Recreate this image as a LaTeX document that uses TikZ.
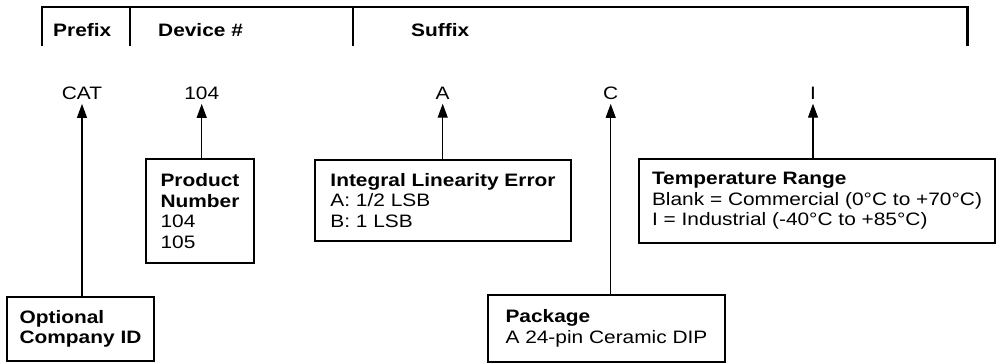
\documentclass[tikz,border=0pt]{standalone}
\usepackage{fontspec}
\setmainfont{Liberation Sans}[FakeStretch=1.16]
\usetikzlibrary{arrows.meta}
\begin{document}
\begin{tikzpicture}[x=1pt,y=-1pt,
  hdr/.style={font=\fontsize{18pt}{20.5pt}\selectfont\bfseries,inner sep=0pt,anchor=base west},
  code/.style={font=\fontsize{18pt}{20.5pt}\selectfont,inner xsep=0pt,inner ysep=4.5pt,anchor=base},
  infobox/.style={draw,line width=1.8pt,align=left,inner sep=0pt,font=\fontsize{18pt}{20.5pt}\selectfont},
  conn/.style={line width=1.2pt,-{Triangle[length=14pt,width=10pt]}}]
\useasboundingbox (0,0) rectangle (996,364);
% header bar
\draw[line width=2pt] (42,46) -- (42,7) -- (967,7);
\draw[line width=3pt] (967,6) -- (967,46);
\foreach \x in {130,353} \draw[line width=2pt] (\x,7) -- (\x,46);
\node[hdr] (prefix) at (53,36) {Prefix};
\node[hdr] (device) at (158,36) {Device \#};
\node[hdr] (suffix) at (411,36) {Suffix};
% part number
\node[code] (cat) at (82,99) {CAT};
\node[code] (num) at (201.7,99) {104};
\node[code] (lin) at (442.7,99) {A};
\node[code] (pkg) at (610.7,99) {C};
\node[code] (tmp) at (813,99) {I};
% explanations
\node[infobox,minimum width=147pt,minimum height=64pt] (compid) at (80.5,329)
  {\textbf{Optional}\\\textbf{Company ID}};
\node[infobox,minimum width=108pt,minimum height=104pt] (prodnum) at (200,211)
  {\textbf{Product}\\\textbf{Number}\\104\\105};
\node[infobox,minimum width=256pt,minimum height=81pt] (linerr) at (443,200.5)
  {\textbf{Integral Linearity Error}\\A: 1/2 LSB\\B: 1 LSB};
\node[infobox,minimum width=237pt,minimum height=67pt] (package) at (606.5,328.5)
  {\textbf{Package}\\A 24-pin Ceramic DIP};
\node[infobox,minimum width=356pt,minimum height=84pt] (temprange) at (817,201)
  {\textbf{Temperature Range}\\Blank = Commercial (0°C to +70°C)\\I = Industrial (-40°C to +85°C)};
\draw[conn] (compid.north -| cat) -- (cat.south);
\draw[conn] (prodnum.north -| num) -- (num.south);
\draw[conn] (linerr.north -| lin) -- (lin.south);
\draw[conn] (package.north -| pkg) -- (pkg.south);
\draw[conn] (temprange.north -| tmp) -- (tmp.south);
\end{tikzpicture}
\end{document}
